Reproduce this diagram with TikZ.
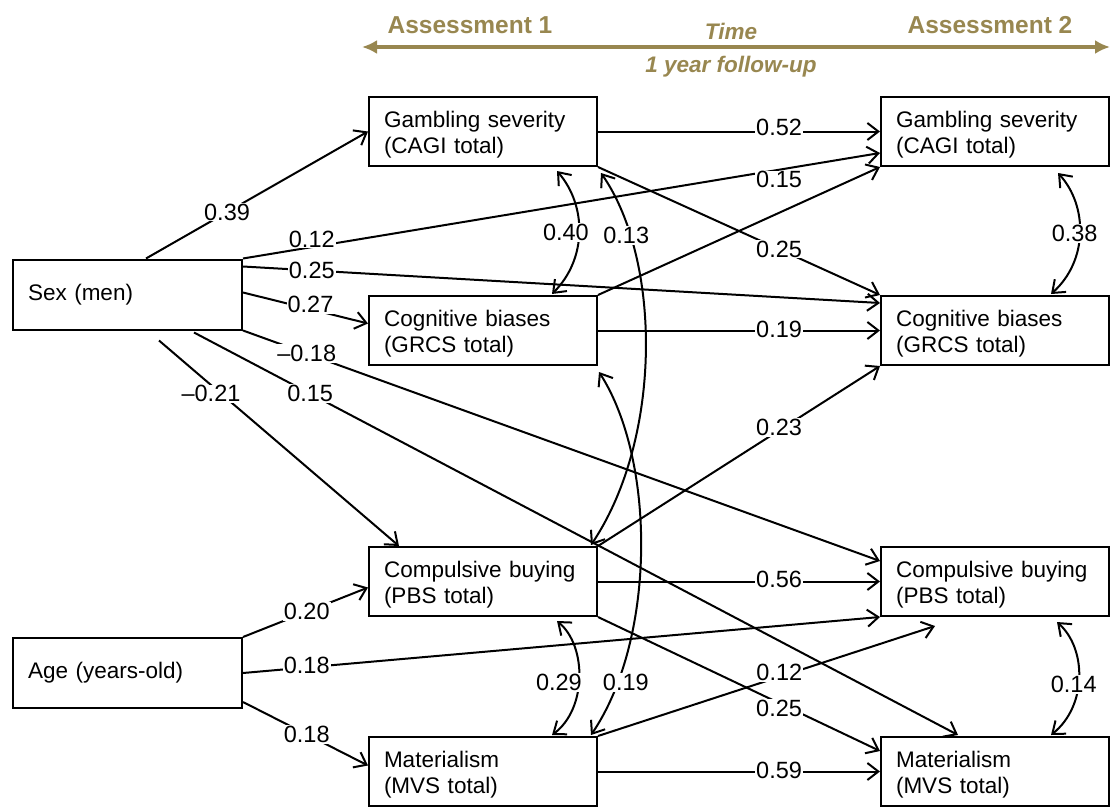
\documentclass[tikz,border=0pt]{standalone}
\usepackage{fontspec}
\setmainfont{Liberation Sans}
\usetikzlibrary{arrows.meta,calc,backgrounds}
\definecolor{hdr}{RGB}{152,135,80}
\newcommand\pathedge[5]{%
  \begin{scope}[on background layer]\draw[arr,#1] (#2) -- (#3);\end{scope}%
  \path (#2) -- (#3) node[lab,#4]{#5};}
\newcommand\covedge[6]{%
  \begin{scope}[on background layer]\draw[cov] (#1) .. controls +(#2) and +(#3) .. (#4);\end{scope}%
  \path (#1) .. controls +(#2) and +(#3) .. (#4) node[lab,#5]{#6};}
\begin{document}
\begin{tikzpicture}[x=1pt,y=-1pt,
  sbox/.style={draw,line width=2pt,rectangle,minimum width=229pt,minimum height=70pt,
    text width=199pt,align=left,inner xsep=15pt,inner ysep=0pt,
    font=\fontsize{22.5}{25.5}\selectfont},
  box/.style={sbox,minimum width=228pt,minimum height=69pt,text width=198pt,
    text height=22.5pt},
  arr/.style={line width=2pt,-{Straight Barb[length=11pt,width=17pt]}},
  cov/.style={line width=2pt,{Straight Barb[length=11pt,width=17pt]}-{Straight Barb[length=11pt,width=17pt]}},
  lab/.style={fill=white,inner sep=1pt,font=\fontsize{23.5}{28}\selectfont},
  hd/.style={text=hdr,font=\fontsize{24.5}{28}\selectfont\bfseries},
  hdi/.style={text=hdr,font=\fontsize{22.5}{27}\selectfont\bfseries\itshape}]
\useasboundingbox (0,0) rectangle (1110,808);

% header
\node[hd] (as1) at (470,25) {Assessment 1};
\node[hd] (as2) at (990,25) {Assessment 2};
\node[hdi] (time) at (731,31) {Time};
\node[hdi] (fu) at (731,67) {1 year follow-up};
\coordinate (tl) at (362,47);
\coordinate (tr) at (1110,47);
\draw[hdr,line width=3.5pt,{Latex[length=15pt,width=14pt]}-{Latex[length=15pt,width=14pt]}] (tl) -- (tr);

% boxes
\node[sbox] (sex) at (127.5,294.5) {Sex (men)};
\node[sbox] (age) at (127.5,673) {Age (years-old)};
\node[box] (g1) at (483,131.5) {Gambling severity\\(CAGI total)};
\node[box] (c1) at (483,330.5) {Cognitive biases\\(GRCS total)};
\node[box] (b1) at (483,581.5) {Compulsive buying\\(PBS total)};
\node[box] (m1) at (483,771.5) {Materialism\\(MVS total)};
\node[box] (g2) at (995,131.5) {Gambling severity\\(CAGI total)};
\node[box] (c2) at (995,330.5) {Cognitive biases\\(GRCS total)};
\node[box] (b2) at (995,581.5) {Compulsive buying\\(PBS total)};
\node[box] (m2) at (995,771.5) {Materialism\\(MVS total)};

% helper coordinates
\coordinate (s1) at ($(sex.north west)+(134,0)$);
\coordinate (s3) at ($(sex.north east)+(0,8)$);
\coordinate (s4) at ($(sex.north east)+(0,34)$);
\coordinate (s6) at ($(sex.south west)+(182,2)$);
\coordinate (s7) at ($(sex.south west)+(147,10)$);
\coordinate (g2w) at ($(g2.south west)+(0,-14)$);
\coordinate (c2w) at ($(c2.north west)+(0,8)$);
\coordinate (c1w) at ($(c1.west)+(0,-7)$);
\coordinate (b2w) at ($(b2.north west)+(0,15)$);
\coordinate (m2n) at ($(m2.north west)+(78,-1)$);
\coordinate (b1n) at ($(b1.north west)+(31,0)$);
\coordinate (m2w) at ($(m2.north west)+(0,15)$);
\coordinate (b2s) at ($(b2.south west)+(55,9)$);
\coordinate (b1w) at ($(b1.west)+(0,6)$);
\coordinate (a3) at ($(age.south east)+(0,-7)$);
\coordinate (m1w) at ($(m1.west)+(0,-6)$);

% paths
\pathedge{}{s1}{g1.west}{pos=.365}{0.39}
\pathedge{}{sex.north east}{g2w}{pos=.108,yshift=8pt}{0.12}
\pathedge{}{s3}{c2w}{pos=.108}{0.25}
\pathedge{}{s4}{c1w}{pos=.54,yshift=5pt}{0.27}
\pathedge{}{sex.south east}{b2w}{pos=.1}{\textendash0.18}
\pathedge{}{s6}{m2n}{pos=.152}{0.15}
\pathedge{}{s7}{b1n}{pos=.25,xshift=-8pt,yshift=-2pt}{\textendash0.21}
\pathedge{}{g1.east}{g2.west}{pos=.642,yshift=4pt}{0.52}
\pathedge{}{g1.south east}{c2.north west}{pos=.642}{0.25}
\pathedge{}{c1.north east}{g2.south west}{pos=.642,yshift=33pt}{0.15}
\pathedge{}{c1.east}{c2.west}{pos=.642,yshift=1pt}{0.19}
\pathedge{}{b1.north east}{c2.south west}{pos=.642,yshift=3pt}{0.23}
\pathedge{}{b1.east}{b2.west}{pos=.642,yshift=2pt}{0.56}
\pathedge{}{b1.south east}{m2w}{pos=.642,yshift=-5pt}{0.25}
\pathedge{}{m1.north east}{b2s}{pos=.538,yshift=4pt}{0.12}
\pathedge{}{m1.east}{m2.west}{pos=.642,yshift=1pt}{0.59}
\pathedge{}{age.north east}{b1w}{pos=.51}{0.20}
\pathedge{}{age.east}{b2.south west}{pos=.1,yshift=2pt}{0.18}
\pathedge{}{a3}{m1w}{pos=.51}{0.18}

% covariances
\covedge{$(g1.south west)+(189,4)$}{30,35}{35,-35}{$(c1.north west)+(184,-1)$}{pos=.5,xshift=-13pt}{0.40}
\covedge{$(g1.south east)+(3,6)$}{61,88}{71,-106}{$(b1.north east)+(-7,-1)$}{pos=.2,xshift=-4pt}{0.13}
\covedge{$(c1.south east)+(1,6)$}{57,89}{65,-96}{$(m1.north east)+(-7,-1)$}{pos=.82,xshift=6pt,yshift=-6pt}{0.19}
\covedge{$(b1.south west)+(189,4)$}{30,25}{35,-26}{$(m1.north west)+(184,-1)$}{pos=.5,xshift=-20pt,yshift=-5pt}{0.29}
\covedge{$(g2.south west)+(178,6)$}{30,33}{37,-33}{$(c2.north west)+(171,-1)$}{pos=.5,xshift=-5pt}{0.38}
\covedge{$(b2.south west)+(177,5)$}{30,27}{36,-29}{$(m2.north west)+(171,-1)$}{pos=.5,xshift=-5pt,yshift=-7pt}{0.14}
\end{tikzpicture}
\end{document}
